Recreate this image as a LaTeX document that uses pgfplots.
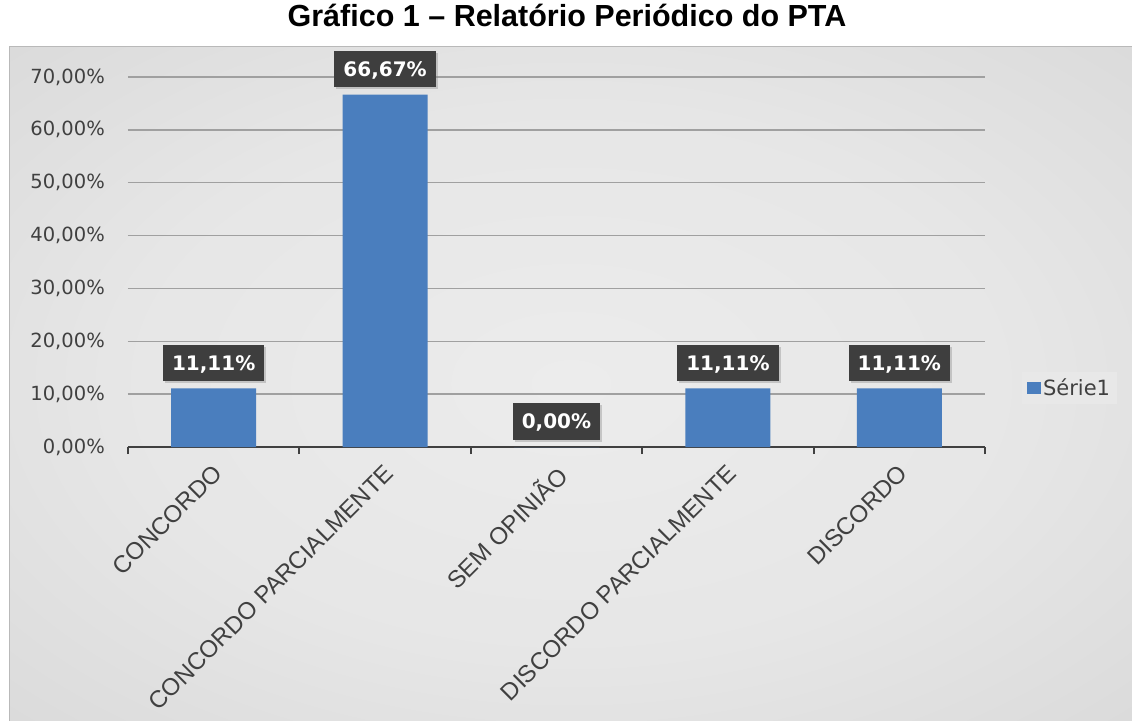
\documentclass[border=0pt]{standalone}
\usepackage{pgfplots}
\pgfplotsset{compat=1.18}
\usepackage{fontspec}
\setmainfont{Liberation Sans}
\newfontfamily\dejavu{DejaVu Sans}
\usetikzlibrary{shadows}
\definecolor{barblue}{RGB}{74,126,190}
\definecolor{labelbg}{RGB}{62,62,62}
\definecolor{txt}{RGB}{64,64,64}
\definecolor{gridc}{RGB}{160,160,160}
\definecolor{bgin}{RGB}{236,236,236}
\definecolor{bgout}{RGB}{208,208,208}
\definecolor{legbg}{RGB}{232,232,232}
\pgfdeclareradialshading{bgshade}{\pgfpoint{0bp}{0bp}}{color(0bp)=(bgin); color(20bp)=(bgin!80!bgout); color(50bp)=(bgout)}
\begin{document}
\begin{tikzpicture}[x=1pt,y=1pt]
\useasboundingbox (-128,-273) rectangle (1004,447);
\fill[white] (-128,-273) rectangle (1004,447);
\shade[shading=bgshade] (-118,-273) rectangle (1004,400);
\draw[gray!55, line width=1pt] (-118,-274) -- (-118,400) -- (1005,400);
\node[font=\bfseries\fontsize{30.5}{36}\selectfont, text=black] at (439,432) {Gráfico 1 – Relatório Periódico do PTA};
\begin{axis}[
  at={(0,0)}, anchor=south west,
  scale only axis, width=857pt, height=370pt,
  xmin=-0.5, xmax=4.5, ymin=0, ymax=70,
  clip=false,
  axis x line*=bottom, axis y line*=left,
  y axis line style={draw=none},
  x axis line style={line width=2pt, draw=txt},
  ytick={0,10,20,30,40,50,60,70},
  yticklabels={0{,}00\%,10{,}00\%,20{,}00\%,30{,}00\%,40{,}00\%,50{,}00\%,60{,}00\%,70{,}00\%},
  ymajorgrids, grid style={line width=1.5pt, draw=gridc},
  ytick style={draw=none},
  xtick={0,...,4},
  xticklabels={CONCORDO, CONCORDO PARCIALMENTE, SEM OPINIÃO, DISCORDO PARCIALMENTE, DISCORDO},
  major x tick style={draw=none},
  minor xtick={-0.5,0.5,...,4.5},
  minor x tick style={line width=2pt, draw=txt},
  xtick align=outside,
  major tick length=0pt, minor tick length=7pt,
  yticklabel style={font=\dejavu\fontsize{19.5}{23}\selectfont, text=txt, inner sep=0pt, anchor=east, xshift=-23pt},
  xticklabel style={xshift=-2pt, yshift=-16pt, rotate=45, anchor=north east, font=\fontsize{24}{28}\selectfont, text=txt, inner sep=0pt},
  ybar, bar width=85pt,
  nodes near coords={\pgfmathprintnumber[fixed,fixed zerofill,precision=2,use comma,assume math mode=true]{\pgfplotspointmeta}\%},
  every node near coord/.append style={font=\dejavu\bfseries\fontsize{20}{23}\selectfont, text=white, fill=labelbg, inner xsep=9pt, inner ysep=11pt, text height=14.5pt, text depth=0pt, anchor=south, yshift=7pt, drop shadow={shadow xshift=2pt, shadow yshift=-2pt, opacity=0.35}},
  legend style={at={(axis description cs:1.043,0.16)}, anchor=west, draw=none, fill=legbg, font=\dejavu\fontsize{21}{24}\selectfont, text=txt, inner sep=5pt},
  legend image code/.code={\fill[barblue] (0pt,-6pt) rectangle (14pt,6pt);},
]
\addplot[fill=barblue, draw=none] coordinates {(0,11.11) (1,66.67) (2,0) (3,11.11) (4,11.11)};
\addlegendentry{Série1}
\end{axis}
\end{tikzpicture}
\end{document}
